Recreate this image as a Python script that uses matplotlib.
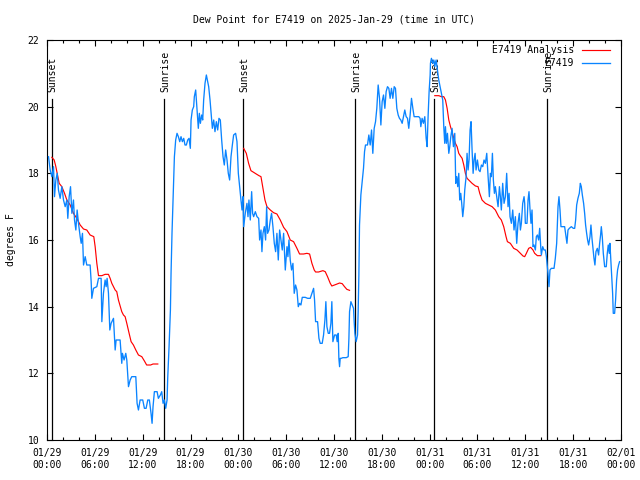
import matplotlib
matplotlib.use("Agg")
import matplotlib.pyplot as plt
from matplotlib.ticker import MultipleLocator

plt.rcParams['font.family'] = ['DejaVu Sans Mono', 'DejaVu Sans']
plt.rcParams['font.size'] = 7

title = "Dew Point for E7419 on 2025-Jan-29 (time in UTC)"
ylabel = "degrees F"
series_names = ["E7419 Analysis", "E7419"]

# x tick labels (hours since 2025-01-29 00:00 UTC)
tick_hours = [0, 6, 12, 18, 24, 30, 36, 42, 48, 54, 60, 66, 72]
tick_labels = ["01/29\n00:00", "01/29\n06:00", "01/29\n12:00", "01/29\n18:00",
               "01/30\n00:00", "01/30\n06:00", "01/30\n12:00", "01/30\n18:00",
               "01/31\n00:00", "01/31\n06:00", "01/31\n12:00", "01/31\n18:00",
               "02/01\n00:00"]
y_ticks = [10, 12, 14, 16, 18, 20, 22]

# sun events (hours)
sun_hours = [0.57, 14.72, 24.6, 38.66, 48.58, 62.72]
sun_labels = ["Sunset", "Sunrise", "Sunset", "Sunrise", "Sunset", "Sunrise"]

# Analysis (red) segments
an1_hours = [0.61, 0.90, 1.11, 1.36, 1.53, 1.86, 2.20, 2.49, 2.91, 3.32,
             3.74, 4.16, 4.58, 4.99, 5.41, 5.87, 6.04, 6.25, 6.46, 6.88,
             7.29, 7.71, 7.92, 8.13, 8.55, 8.75, 8.96, 9.38, 9.59, 9.80,
             10.01, 10.30, 10.55, 10.84, 11.14, 11.47, 11.89, 12.22, 12.5, 13.0,
             13.3, 13.9]
an1_vals = [18.48, 18.4, 18.2, 17.9, 17.7, 17.6, 17.4, 17.2, 17.05, 16.8,
            16.65, 16.45, 16.33, 16.3, 16.15, 16.1, 15.8, 15.3, 14.93, 14.93,
            14.97, 14.97, 14.85, 14.7, 14.5, 14.45, 14.2, 13.85, 13.75, 13.7,
            13.5, 13.2, 12.95, 12.85, 12.7, 12.55, 12.5, 12.37, 12.25, 12.25,
            12.28, 12.28]
an2_hours = [24.67, 25.00, 25.29, 25.58, 25.92, 26.25, 26.59, 26.84, 27.09, 27.34,
             27.59, 28.01, 28.42, 28.84, 29.26, 29.68, 30.10, 30.51, 30.93, 31.35,
             31.68, 32.18, 32.60, 32.94, 33.23, 33.52, 33.69, 34.06, 34.61, 34.90,
             35.19, 35.53, 35.73, 36.28, 36.70, 37.03, 37.32, 37.61, 37.95]
an2_vals = [18.75, 18.6, 18.3, 18.08, 18.03, 17.98, 17.93, 17.9, 17.55, 17.2,
            17.0, 16.9, 16.82, 16.78, 16.6, 16.38, 16.25, 16.0, 15.95, 15.75,
            15.58, 15.58, 15.6, 15.58, 15.3, 15.1, 15.04, 15.04, 15.08, 15.05,
            14.9, 14.7, 14.62, 14.67, 14.71, 14.69, 14.6, 14.52, 14.49]
an3_hours = [48.64, 49.14, 49.48, 49.77, 49.98, 50.19, 50.40, 50.61, 50.81, 51.02,
             51.23, 51.44, 51.65, 51.86, 52.07, 52.28, 52.48, 52.69, 52.90, 53.32,
             53.74, 54.07, 54.28, 54.57, 54.99, 55.41, 55.83, 56.24, 56.66, 56.99,
             57.29, 57.58, 57.75, 58.12, 58.54, 58.96, 59.38, 59.71, 59.92, 60.13,
             60.42, 60.67, 60.96, 61.17, 61.51, 61.93]
an3_vals = [20.33, 20.33, 20.3, 20.3, 20.2, 19.95, 19.6, 19.4, 19.25, 19.05,
            18.9, 18.8, 18.6, 18.52, 18.45, 18.25, 18.0, 17.85, 17.8, 17.7,
            17.62, 17.6, 17.4, 17.2, 17.1, 17.05, 17.0, 16.9, 16.7, 16.6,
            16.4, 16.1, 15.95, 15.9, 15.75, 15.7, 15.6, 15.52, 15.5, 15.6,
            15.75, 15.78, 15.7, 15.6, 15.53, 15.53]

# Observations (blue)
obs_hours = [
    0.19, 0.40, 0.61, 0.82, 0.94, 1.11, 1.28, 1.44, 1.65, 1.86,
    2.07, 2.28, 2.49, 2.61, 2.78, 2.95, 3.12, 3.32, 3.45, 3.62,
    3.78, 3.95, 4.16, 4.29, 4.45, 4.58, 4.79, 4.99, 5.41, 5.54,
    5.62, 5.83, 6.25, 6.46, 6.79, 6.88, 7.08, 7.29, 7.42, 7.54,
    7.71, 7.88, 8.04, 8.34, 8.55, 8.67, 9.17, 9.38, 9.46, 9.67,
    9.88, 10.01, 10.22, 10.43, 10.63, 11.14, 11.30, 11.47, 11.68, 11.97,
    12.01, 12.22, 12.43, 12.64, 12.84, 13.05, 13.18, 13.30, 13.47, 13.81,
    13.97, 14.22, 14.39, 14.56, 14.72, 14.89, 15.06, 15.14, 15.31, 15.48,
    15.56, 15.68, 15.81, 15.89, 15.98, 16.14, 16.31, 16.48, 16.65, 16.81,
    16.98, 17.15, 17.31, 17.48, 17.65, 17.82, 17.98, 18.07, 18.23, 18.40,
    18.48, 18.65, 18.82, 18.98, 19.11, 19.24, 19.40, 19.53, 19.65, 19.82,
    19.99, 20.11, 20.28, 20.45, 20.57, 20.74, 20.91, 21.07, 21.24, 21.41,
    21.57, 21.74, 21.91, 22.08, 22.24, 22.41, 22.58, 22.74, 22.91, 23.08,
    23.25, 23.41, 23.66, 23.83, 24.00, 24.16,
    24.33, 24.46, 24.58, 24.67, 24.87, 25.08, 25.21, 25.33, 25.50, 25.67,
    25.79, 25.92, 26.13, 26.34, 26.55, 26.67, 26.84, 26.96, 27.09, 27.26,
    27.42, 27.55, 27.67, 27.84, 28.01, 28.17, 28.34, 28.51, 28.68, 28.84,
    29.01, 29.18, 29.34, 29.51, 29.68, 29.89, 30.10, 30.22, 30.35, 30.51,
    30.68, 30.85, 31.01, 31.18, 31.35, 31.52, 31.68, 31.85, 32.02, 32.39,
    32.69, 33.02, 33.23, 33.44, 33.56, 33.69, 33.94, 34.11, 34.27, 34.52,
    34.69, 34.86, 34.98, 35.11, 35.28, 35.44, 35.61, 35.73,
    35.86, 36.07, 36.28, 36.40, 36.53, 36.61, 36.70, 36.78, 36.90, 37.11,
    37.53, 37.78, 37.87, 37.95, 38.12, 38.28, 38.45, 38.53, 38.62, 38.78,
    38.95, 39.03, 39.12, 39.20, 39.37, 39.54, 39.70, 39.83, 39.95, 40.20,
    40.37, 40.54, 40.71, 40.87, 41.04, 41.21, 41.37, 41.54, 41.71, 41.88,
    42.04, 42.21, 42.38, 42.54, 42.71, 42.88, 43.04, 43.21, 43.38, 43.55,
    43.71, 43.88, 44.05, 44.21, 44.38, 44.55, 44.72, 44.88, 45.05, 45.22,
    45.38, 45.55, 45.72, 45.89, 46.05, 46.30, 46.64, 46.80, 46.89, 47.05,
    47.22, 47.39, 47.56, 47.68, 47.81, 47.93, 48.06,
    48.10, 48.22, 48.39, 48.52, 48.64, 48.81, 48.98, 49.14, 49.31, 49.48,
    49.64, 49.77, 49.89, 49.98, 50.10, 50.23, 50.40, 50.52, 50.65, 50.81,
    50.98, 51.15, 51.27, 51.40, 51.52, 51.65, 51.77, 51.90, 52.02, 52.15,
    52.28, 52.40, 52.57, 52.69, 52.82, 52.94, 53.07, 53.19, 53.32, 53.45,
    53.57, 53.70, 53.82, 53.99, 54.16, 54.32, 54.49, 54.66, 54.82, 54.99,
    55.16, 55.33, 55.49, 55.62, 55.74, 55.87, 55.99, 56.12, 56.24, 56.41,
    56.58, 56.75, 56.87, 56.99, 57.16, 57.33, 57.50, 57.66, 57.83, 57.96,
    58.08, 58.25, 58.42, 58.58, 58.75, 58.92, 59.08, 59.25, 59.38, 59.50,
    59.67, 59.84,
    59.92, 60.00, 60.21, 60.34, 60.46, 60.59, 60.71, 60.84, 60.96, 61.09,
    61.26, 61.38, 61.51, 61.67, 61.80, 61.93, 62.01, 62.18, 62.34, 62.51,
    62.64, 62.72, 62.84, 62.97, 63.09, 63.26, 63.60, 63.76, 63.93, 64.01,
    64.10, 64.22, 64.35, 64.47, 64.72, 64.93, 65.10, 65.22, 65.35, 65.52,
    65.77, 66.02, 66.19, 66.31, 66.44, 66.60, 66.77, 66.90, 67.02, 67.15,
    67.31, 67.44, 67.56, 67.69, 67.81, 67.94, 68.11, 68.23, 68.36, 68.48,
    68.61, 68.73, 68.86, 69.03, 69.19, 69.32, 69.44, 69.53, 69.65, 69.78,
    69.95, 70.15, 70.28, 70.40, 70.53, 70.61, 70.70, 70.82, 70.95, 71.03,
    71.20, 71.32, 71.45, 71.57, 71.70, 71.82]
obs_dewpt = [
    18.5, 18.1, 17.9, 18.2, 17.3, 17.8, 18.0, 17.5, 17.25, 17.6,
    17.2, 17.0, 17.2, 16.65, 17.3, 17.6, 16.8, 17.2, 16.6, 16.3,
    16.9, 16.5, 16.1, 15.9, 16.2, 15.25, 15.5, 15.25, 15.25, 14.75,
    14.25, 14.55, 14.6, 14.85, 14.85, 13.55, 14.4, 14.8, 14.6, 14.85,
    14.4, 13.3, 13.5, 13.65, 12.7, 13.0, 13.0, 12.3, 12.6, 12.4,
    12.6, 12.4, 11.6, 11.8, 11.9, 11.9, 11.1, 10.9, 11.2, 11.2,
    11.2, 10.95, 10.95, 11.2, 11.2, 10.8, 10.5, 11.0, 11.45, 11.45,
    11.25, 11.35, 11.45, 11.1, 11.2, 10.95, 11.2, 11.85, 12.8, 13.9,
    15.0, 16.2, 17.2, 17.9, 18.5, 19.0, 19.2, 19.1, 18.95, 19.1,
    18.95, 19.05, 18.85, 18.85, 19.0, 19.05, 18.75, 19.6, 19.9, 20.0,
    20.3, 20.5, 19.9, 19.35, 19.8, 19.5, 19.75, 19.6, 20.2, 20.7,
    20.95, 20.8, 20.6, 20.2, 19.85, 19.35, 19.6, 19.25, 19.55, 19.3,
    19.65, 19.6, 19.0, 18.5, 18.25, 18.7, 18.4, 18.0, 17.8, 18.5,
    18.85, 19.15, 19.2, 18.95, 18.0, 17.6,
    17.2, 16.9, 17.3, 16.4, 16.8, 17.1, 16.7, 17.2, 16.6, 17.45,
    16.8, 16.7, 16.85, 16.7, 16.65, 16.0, 16.3, 15.65, 16.2, 16.4,
    16.0, 17.0, 16.2, 16.3, 16.6, 16.8, 16.4, 15.9, 15.65, 16.2,
    15.4, 16.3, 16.0, 15.7, 16.2, 15.1, 15.8, 15.5, 16.0, 15.4,
    15.1, 15.3, 14.4, 14.65, 14.5, 14.0, 14.1, 14.05, 14.28, 14.28,
    14.25, 14.25, 14.4, 14.55, 14.2, 13.55, 13.55, 13.05, 12.9, 12.9,
    13.15, 13.6, 14.15, 13.4, 13.2, 13.2, 13.5, 14.15,
    12.95, 13.15, 13.15, 12.95, 13.2, 12.45, 12.2, 12.45, 12.45, 12.47,
    12.47, 12.5, 13.05, 13.85, 14.15, 14.05, 13.95, 13.55, 13.2, 12.95,
    13.15, 13.85, 14.95, 16.45, 17.35, 17.75, 18.15, 18.65, 18.85, 18.85,
    19.15, 18.85, 19.3, 18.6, 19.35, 19.55, 19.95, 20.65, 20.25, 19.45,
    20.15, 20.35, 19.95, 20.45, 20.6, 20.55, 20.25, 20.55, 20.25, 20.6,
    20.55, 19.95, 19.75, 19.65, 19.6, 19.5, 19.7, 19.9, 19.7, 19.65,
    19.35, 19.75, 20.25, 19.95, 19.7, 19.7, 19.7, 19.65, 19.4, 19.65,
    19.5, 19.7, 19.05, 18.8, 19.75, 20.45, 20.95,
    21.3, 21.45, 21.3, 21.4, 21.2, 21.4, 21.1, 20.8, 20.6, 20.4,
    20.2, 19.4, 18.9, 19.4, 18.9, 19.2, 18.6, 18.8, 19.1, 19.35,
    18.8, 19.2, 17.7, 17.9, 17.6, 18.0, 17.2, 17.4, 17.1, 16.7,
    17.0, 17.5, 17.9, 18.6, 18.1, 18.4, 19.3, 19.55, 18.7, 18.0,
    18.4, 18.6, 18.1, 18.4, 18.1, 18.05, 18.25, 18.2, 18.4, 18.3,
    18.6, 17.9, 17.3, 18.0, 17.9, 18.6, 17.8, 17.4, 17.6, 17.3,
    17.0, 17.6, 17.3, 16.9, 17.7, 17.1, 17.3, 18.0, 17.0, 17.4,
    16.7, 16.5, 16.9, 16.3, 16.7, 15.9, 16.5, 16.8, 16.3, 16.5,
    17.1, 17.3,
    17.1, 16.5, 16.5, 17.2, 17.45, 16.9, 16.5, 16.9, 15.8, 15.85,
    15.7, 16.1, 16.15, 16.0, 16.35, 15.8, 15.55, 15.8, 15.7, 15.7,
    15.5, 15.3, 15.0, 14.6, 15.1, 15.15, 15.15, 15.45, 15.9, 16.4,
    17.0, 17.3, 16.9, 16.4, 16.4, 16.4, 16.1, 15.9, 16.3, 16.35,
    16.4, 16.35, 16.35, 16.6, 17.05, 17.25, 17.4, 17.7, 17.6, 17.35,
    17.1, 16.8, 16.45, 16.2, 16.0, 15.85, 16.1, 16.45, 16.05, 15.75,
    15.45, 15.25, 15.65, 15.75, 15.55, 15.9, 16.15, 16.4, 16.1, 15.6,
    15.2, 15.2, 15.6, 15.85, 15.6, 15.9, 15.5, 14.95, 14.4, 13.8,
    13.8, 14.2, 14.8, 15.1, 15.25, 15.35]

red = '#ff0000'
blue = '#0a84ff'

fig = plt.figure(figsize=(6.4, 4.8), dpi=100)
ax = fig.add_axes([47/640, 40/480, 574/640, 400/480])

xt = ax.get_xaxis_transform()
for h, lab in zip(sun_hours, sun_labels):
    ax.plot([h, h], [0, 0.8525], transform=xt, color='black', lw=0.9, zorder=1)
    ax.text(h + 0.12, 0.871, lab, rotation=90, ha='center', va='bottom',
            transform=xt, zorder=1)

for hh, vv in [(an1_hours, an1_vals), (an2_hours, an2_vals), (an3_hours, an3_vals)]:
    ax.plot(hh, vv, color=red, lw=0.85, zorder=2)
ax.plot(obs_hours, obs_dewpt, color=blue, lw=0.95, zorder=3)

ax.set_xlim(0, 72)
ax.set_ylim(10, 22)
ax.set_xticks(tick_hours)
ax.set_xticklabels(tick_labels, linespacing=1.3)
ax.xaxis.set_minor_locator(MultipleLocator(2))
ax.set_yticks(y_ticks)
ax.set_yticklabels([str(v) for v in y_ticks])
ax.tick_params(axis='both', which='both', direction='in', top=True, right=True,
               width=0.8, colors='black', labelsize=7)
ax.tick_params(which='major', length=4.5, pad=5.5)
ax.tick_params(which='minor', length=2.5)
for s in ax.spines.values():
    s.set_linewidth(0.8)

# legend (gnuplot style: right-justified text, line sample to the right)
ax.text(0.918, 0.975, series_names[0], transform=ax.transAxes, ha='right', va='center')
ax.plot([0.932, 0.981], [0.975, 0.975], transform=ax.transAxes, color=red, lw=0.85)
ax.text(0.918, 0.943, series_names[1], transform=ax.transAxes, ha='right', va='center')
ax.plot([0.932, 0.981], [0.943, 0.943], transform=ax.transAxes, color=blue, lw=0.95)

fig.text(334/640, 1 - 19/480, title, ha='center', va='center', fontsize=7)
fig.text(11/640, 0.5, ylabel, rotation=90, ha='center', va='center', fontsize=7)

fig.savefig('out.png', dpi=100)
